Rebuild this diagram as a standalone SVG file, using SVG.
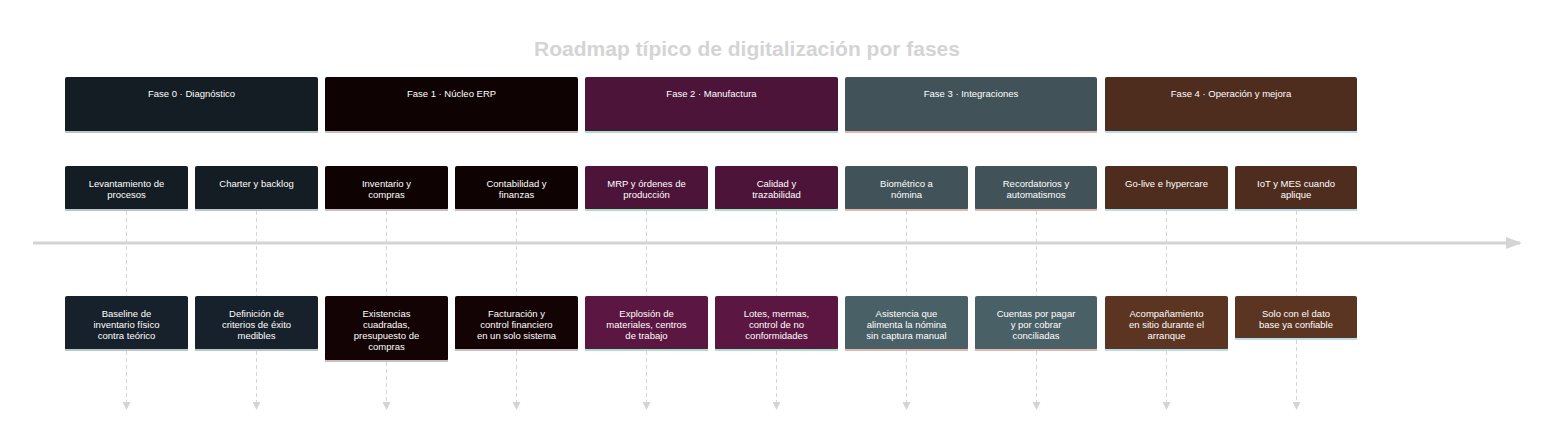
<svg xmlns="http://www.w3.org/2000/svg" width="1568" height="446" viewBox="0 0 1568 446">
<style>
text{font-family:"Liberation Sans",Arial,sans-serif;fill:#fff;font-size:9.5px;text-anchor:middle}
.title{font-size:21px;font-weight:bold;fill:#d4d4d4}
.dash{stroke:#d4d4d4;stroke-width:1;stroke-dasharray:4 3;fill:none}
.p0{fill:#141c24}.p1{fill:#0f0203}.p2{fill:#4d1439}.p3{fill:#415358}.p4{fill:#4f2d1e}
.b0{fill:#17212b}.b1{fill:#130304}.b2{fill:#5b1642}.b3{fill:#4a6067}.b4{fill:#5b3521}
.l0{stroke:#b8c8c8}.l1{stroke:#c8c0c0}.l2{stroke:#a8e0c8}.l3{stroke:#e0b8b0}.l4{stroke:#b8dcea}
line.u{stroke-width:2}
</style>
<defs>
<marker id="ah" markerWidth="8" markerHeight="8" refX="4" refY="4" orient="auto" markerUnits="userSpaceOnUse"><path d="M0,0 L8,4 L0,8 z" fill="#d4d4d4"/></marker>
<marker id="big" markerWidth="16" markerHeight="12" refX="14" refY="6" orient="auto" markerUnits="userSpaceOnUse"><path d="M0,0 L16,6 L0,12 z" fill="#d4d4d4"/></marker>
</defs>
<text class="title" x="747" y="56">Roadmap típico de digitalización por fases</text>
<g id="connectors">
<line x1="33" y1="243" x2="1520" y2="243" stroke="#d4d4d4" stroke-width="3" marker-end="url(#big)"/>
<path class="dash" d="M126.5,211V296M126.5,351V406" marker-end="url(#ah)"/>
<path class="dash" d="M256.5,211V296M256.5,351V406" marker-end="url(#ah)"/>
<path class="dash" d="M386.5,211V296M386.5,362V406" marker-end="url(#ah)"/>
<path class="dash" d="M516.5,211V296M516.5,351V406" marker-end="url(#ah)"/>
<path class="dash" d="M646.5,211V296M646.5,351V406" marker-end="url(#ah)"/>
<path class="dash" d="M776.5,211V296M776.5,351V406" marker-end="url(#ah)"/>
<path class="dash" d="M906.5,211V296M906.5,351V406" marker-end="url(#ah)"/>
<path class="dash" d="M1036.5,211V296M1036.5,351V406" marker-end="url(#ah)"/>
<path class="dash" d="M1166.5,211V296M1166.5,351V406" marker-end="url(#ah)"/>
<path class="dash" d="M1296.5,211V296M1296.5,340V406" marker-end="url(#ah)"/>
</g>
<g id="phase0"><rect class="p0" x="65" y="77" width="253" height="55" rx="2"/><line class="u l0" x1="65" y1="132" x2="318" y2="132"/><text x="191.5" y="97">Fase 0 · Diagnóstico</text></g>
<g id="phase1"><rect class="p1" x="325" y="77" width="253" height="55" rx="2"/><line class="u l1" x1="325" y1="132" x2="578" y2="132"/><text x="451.5" y="97">Fase 1 · Núcleo ERP</text></g>
<g id="phase2"><rect class="p2" x="585" y="77" width="253" height="55" rx="2"/><line class="u l2" x1="585" y1="132" x2="838" y2="132"/><text x="711.5" y="97">Fase 2 · Manufactura</text></g>
<g id="phase3"><rect class="p3" x="845" y="77" width="252" height="55" rx="2"/><line class="u l3" x1="845" y1="132" x2="1097" y2="132"/><text x="971" y="97">Fase 3 · Integraciones</text></g>
<g id="phase4"><rect class="p4" x="1105" y="77" width="252" height="55" rx="2"/><line class="u l4" x1="1105" y1="132" x2="1357" y2="132"/><text x="1231" y="97">Fase 4 · Operación y mejora</text></g>

<g id="t1"><rect class="p0" x="65" y="166" width="123" height="44" rx="2"/><line class="u l0" x1="65" y1="210" x2="188" y2="210"/><text x="126.5" y="187">Levantamiento de</text><text x="126.5" y="198">procesos</text></g>
<g id="t2"><rect class="p0" x="195" y="166" width="123" height="44" rx="2"/><line class="u l0" x1="195" y1="210" x2="318" y2="210"/><text x="256.5" y="187">Charter y backlog</text></g>
<g id="t3"><rect class="p1" x="325" y="166" width="123" height="44" rx="2"/><line class="u l1" x1="325" y1="210" x2="448" y2="210"/><text x="386.5" y="187">Inventario y</text><text x="386.5" y="198">compras</text></g>
<g id="t4"><rect class="p1" x="455" y="166" width="123" height="44" rx="2"/><line class="u l1" x1="455" y1="210" x2="578" y2="210"/><text x="516.5" y="187">Contabilidad y</text><text x="516.5" y="198">finanzas</text></g>
<g id="t5"><rect class="p2" x="585" y="166" width="123" height="44" rx="2"/><line class="u l2" x1="585" y1="210" x2="708" y2="210"/><text x="646.5" y="187">MRP y órdenes de</text><text x="646.5" y="198">producción</text></g>
<g id="t6"><rect class="p2" x="715" y="166" width="123" height="44" rx="2"/><line class="u l2" x1="715" y1="210" x2="838" y2="210"/><text x="776.5" y="187">Calidad y</text><text x="776.5" y="198">trazabilidad</text></g>
<g id="t7"><rect class="p3" x="845" y="166" width="123" height="44" rx="2"/><line class="u l3" x1="845" y1="210" x2="968" y2="210"/><text x="906.5" y="187">Biométrico a</text><text x="906.5" y="198">nómina</text></g>
<g id="t8"><rect class="p3" x="975" y="166" width="122" height="44" rx="2"/><line class="u l3" x1="975" y1="210" x2="1097" y2="210"/><text x="1036" y="187">Recordatorios y</text><text x="1036" y="198">automatismos</text></g>
<g id="t9"><rect class="p4" x="1105" y="166" width="123" height="44" rx="2"/><line class="u l4" x1="1105" y1="210" x2="1228" y2="210"/><text x="1166.5" y="187">Go-live e hypercare</text></g>
<g id="t10"><rect class="p4" x="1235" y="166" width="122" height="44" rx="2"/><line class="u l4" x1="1235" y1="210" x2="1357" y2="210"/><text x="1296" y="187">IoT y MES cuando</text><text x="1296" y="198">aplique</text></g>

<g id="r1"><rect class="b0" x="65" y="296" width="123" height="54" rx="2"/><line class="u l0" x1="65" y1="350" x2="188" y2="350"/><text x="126.5" y="317">Baseline de</text><text x="126.5" y="328">inventario físico</text><text x="126.5" y="339">contra teórico</text></g>
<g id="r2"><rect class="b0" x="195" y="296" width="123" height="54" rx="2"/><line class="u l0" x1="195" y1="350" x2="318" y2="350"/><text x="256.5" y="317">Definición de</text><text x="256.5" y="328">criterios de éxito</text><text x="256.5" y="339">medibles</text></g>
<g id="r3"><rect class="b1" x="325" y="296" width="123" height="65" rx="2"/><line class="u l1" x1="325" y1="361" x2="448" y2="361"/><text x="386.5" y="317">Existencias</text><text x="386.5" y="328">cuadradas,</text><text x="386.5" y="339">presupuesto de</text><text x="386.5" y="350">compras</text></g>
<g id="r4"><rect class="b1" x="455" y="296" width="123" height="54" rx="2"/><line class="u l1" x1="455" y1="350" x2="578" y2="350"/><text x="516.5" y="317">Facturación y</text><text x="516.5" y="328">control financiero</text><text x="516.5" y="339">en un solo sistema</text></g>
<g id="r5"><rect class="b2" x="585" y="296" width="123" height="54" rx="2"/><line class="u l2" x1="585" y1="350" x2="708" y2="350"/><text x="646.5" y="317">Explosión de</text><text x="646.5" y="328">materiales, centros</text><text x="646.5" y="339">de trabajo</text></g>
<g id="r6"><rect class="b2" x="715" y="296" width="123" height="54" rx="2"/><line class="u l2" x1="715" y1="350" x2="838" y2="350"/><text x="776.5" y="317">Lotes, mermas,</text><text x="776.5" y="328">control de no</text><text x="776.5" y="339">conformidades</text></g>
<g id="r7"><rect class="b3" x="845" y="296" width="123" height="54" rx="2"/><line class="u l3" x1="845" y1="350" x2="968" y2="350"/><text x="906.5" y="317">Asistencia que</text><text x="906.5" y="328">alimenta la nómina</text><text x="906.5" y="339">sin captura manual</text></g>
<g id="r8"><rect class="b3" x="975" y="296" width="122" height="54" rx="2"/><line class="u l3" x1="975" y1="350" x2="1097" y2="350"/><text x="1036" y="317">Cuentas por pagar</text><text x="1036" y="328">y por cobrar</text><text x="1036" y="339">conciliadas</text></g>
<g id="r9"><rect class="b4" x="1105" y="296" width="123" height="54" rx="2"/><line class="u l4" x1="1105" y1="350" x2="1228" y2="350"/><text x="1166.5" y="317">Acompañamiento</text><text x="1166.5" y="328">en sitio durante el</text><text x="1166.5" y="339">arranque</text></g>
<g id="r10"><rect class="b4" x="1235" y="296" width="122" height="43" rx="2"/><line class="u l4" x1="1235" y1="339" x2="1357" y2="339"/><text x="1296" y="317">Solo con el dato</text><text x="1296" y="328">base ya confiable</text></g>
</svg>
